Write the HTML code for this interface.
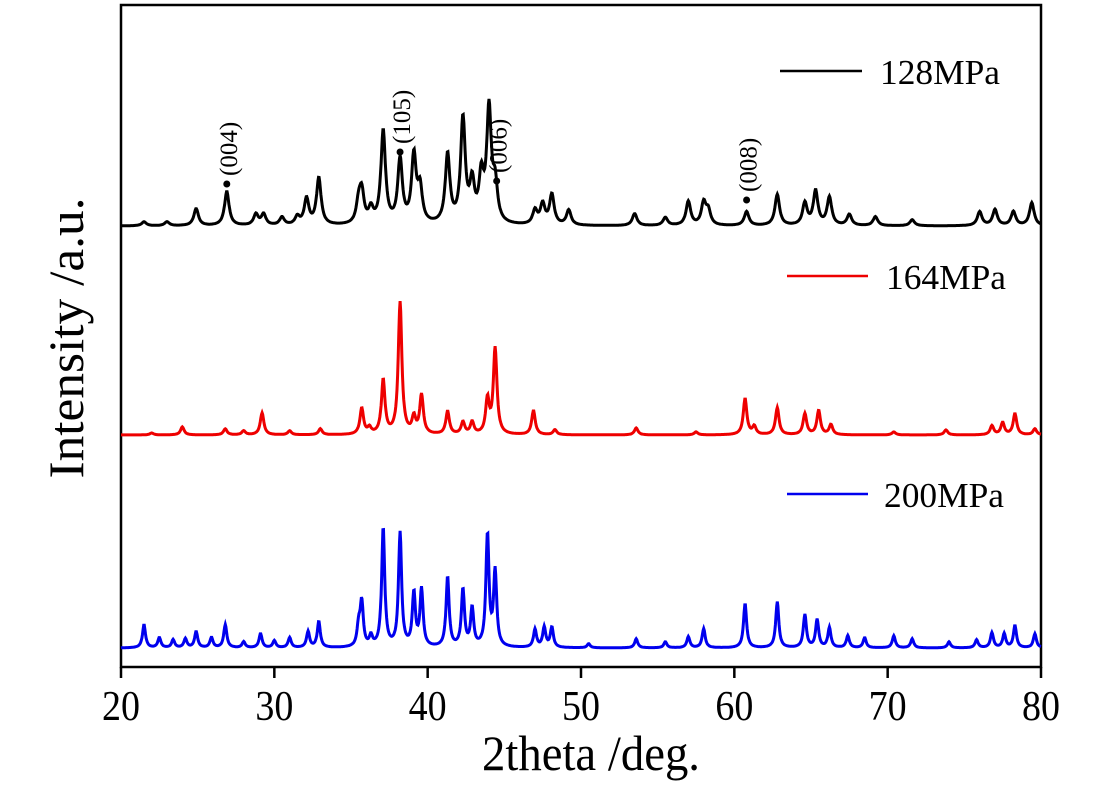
<!DOCTYPE html>
<html><head><meta charset="utf-8"><style>
body{margin:0;background:#fff;}
svg{display:block;font-family:"Liberation Serif",serif;}
</style></head><body>
<svg id="chart" width="1093" height="788" viewBox="0 0 1093 788">
<rect x="121" y="5" width="920" height="662" fill="none" stroke="#000" stroke-width="2.5"/>
<g id="ticks"></g>
<g id="series"></g>
<g id="annos"></g>
<text x="482" y="770" font-size="50" textLength="218" lengthAdjust="spacingAndGlyphs">2theta /deg.</text>
<text transform="translate(83,338) rotate(-90)" font-size="50" text-anchor="middle" textLength="281" lengthAdjust="spacingAndGlyphs">Intensity /a.u.</text>
<g><line x1="780" y1="71" x2="862" y2="71" stroke="#000" stroke-width="2.5"/><text x="880" y="84" font-size="35" textLength="120" lengthAdjust="spacingAndGlyphs">128MPa</text></g>
<g><line x1="787" y1="276" x2="868" y2="276" stroke="#e00" stroke-width="2.5"/><text x="886" y="289" font-size="35" textLength="120" lengthAdjust="spacingAndGlyphs">164MPa</text></g>
<g><line x1="787" y1="494" x2="868" y2="494" stroke="#00e" stroke-width="2.5"/><text x="884" y="507" font-size="35" textLength="120" lengthAdjust="spacingAndGlyphs">200MPa</text></g>
</svg>
<script>
const xTicks=[20,30,40,50,60,70,80];
// peak positions (deg) and intensities (a.u., in px-equivalent)
const blackPos=[21.5,23,24.9,26.9,28.8,29.3,30.5,31.5,32.1,32.9,35.5,35.7,36.3,37.1,38.2,39.1,39.5,41.3,42.3,42.9,43.5,44.0,44.4,47.0,47.5,48.1,49.2,53.5,55.5,57.0,58.0,58.3,60.8,62.8,64.6,65.3,66.2,67.5,69.2,71.6,76,77,78.2,79.4];
const blackInt=[4,4,17,34,11,11,8,8,26,47,20,30,14,93,64,67,34,69,104,38,44,113,36,14,20,30,15,12,8,24,22,14,14,31,22,34,28,11,9,6,14,16,14,23];
const redPos=[22,24.0,26.8,28,29.2,31,33,35.7,36.2,37.1,38.2,39.1,39.6,41.3,42.3,42.9,43.9,44.4,46.9,48.3,53.6,57.5,60.7,61.3,62.8,64.6,65.5,66.3,70.4,73.8,76.8,77.5,78.3,79.6];
const redInt=[2,8,6,4,22,4,6,26,6,54,132,16,39,23,12,12,34,86,24,5,7,3,36,8,27,21,24,10,3,5,9,12,21,6];
const bluePos=[21.5,22.5,23.4,24.2,24.9,25.9,26.8,28,29.1,30,31,32.2,32.9,35.5,35.7,36.3,37.1,38.2,39.1,39.6,41.3,42.3,42.9,43.9,44.4,47.0,47.6,48.1,50.5,53.6,55.5,57,58,60.7,62.8,64.6,65.4,66.2,67.4,68.5,70.4,71.6,74,75.8,76.8,77.6,78.3,79.6];
const blueInt=[23,10,8,9,16,10,23,6,14,7,10,16,26,20,44,10,119,114,53,57,70,57,38,112,75,18,20,20,4,9,6,11,19,44,46,33,28,20,12,10,12,9,6,8,15,14,22,14];
const X=d=>121+(d-20)*(920/60);
const svgns="http://www.w3.org/2000/svg";
const tk=document.getElementById('ticks');
xTicks.forEach(t=>{
 const l=document.createElementNS(svgns,'line');
 
 
 l.setAttribute('x1',X(t));l.setAttribute('x2',X(t));l.setAttribute('y1',667);l.setAttribute('y2',678);
 l.setAttribute('stroke','#000');l.setAttribute('stroke-width','2.5');tk.appendChild(l);
 const s=document.createElementNS(svgns,'text');
 
 
 s.setAttribute('x',X(t));s.setAttribute('y',720);s.setAttribute('font-size','42');s.setAttribute('text-anchor','middle');
 s.setAttribute('textLength','38');s.setAttribute('lengthAdjust','spacingAndGlyphs');
 s.textContent=t;tk.appendChild(s);
});
function profile(pos,ints,w,d){let v=0;for(let i=0;i<pos.length;i++){const u=(d-pos[i])/w;v+=ints[i]/(1+u*u);}return v;}
function draw(pos,ints,baseY,w,color,name){
 let p='';for(let d=20;d<=80.0001;d+=0.04){p+=(p?'L':'M')+X(d).toFixed(1)+','+(baseY-profile(pos,ints,w,d)).toFixed(1);}
 const e=document.createElementNS(svgns,'path');
 
 
 e.setAttribute('d',p);e.setAttribute('fill','none');e.setAttribute('stroke',color);e.setAttribute('stroke-width','3');
 document.getElementById('series').appendChild(e);
}
draw(blackPos,blackInt,226,0.18,'#000','series-128mpa');
draw(redPos,redInt,435,0.14,'#e00','series-164mpa');
draw(bluePos,blueInt,648,0.12,'#00e','series-200mpa');
const annoPos=[26.9,38.2,44.5,60.8];
const annoLbl=['(004)','(105)','(006)','(008)'];
const annoY=[184,152,181,200];
const ag=document.getElementById('annos');
annoPos.forEach((a,i)=>{
 const c=document.createElementNS(svgns,'circle');
 
 
 c.setAttribute('cx',X(a));c.setAttribute('cy',annoY[i]);c.setAttribute('r','3.5');ag.appendChild(c);
 const t=document.createElementNS(svgns,'text');
 
 
 t.setAttribute('font-size','25');
 t.setAttribute('transform','translate('+(X(a)+10)+','+(annoY[i]-8)+') rotate(-90)');
 t.textContent=annoLbl[i];ag.appendChild(t);
});
</script>
</body></html>
